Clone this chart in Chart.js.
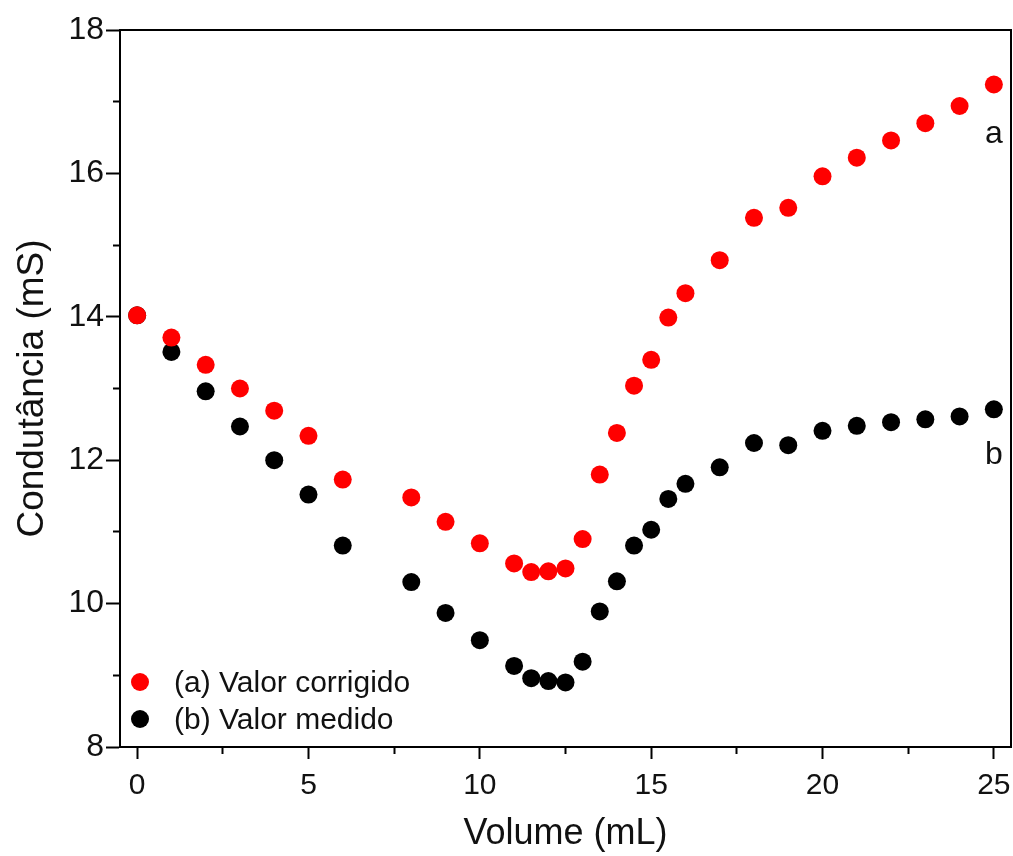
<!DOCTYPE html>
<html>
<head>
<meta charset="utf-8">
<script src="https://cdn.jsdelivr.net/npm/chart.js@4.4.0/dist/chart.umd.min.js"></script>
<style>
  html, body { margin: 0; padding: 0; background: #fff; }
  #wrap { width: 1013px; height: 856px; }
</style>
</head>
<body>
<div id="wrap"><canvas id="chart" width="1013" height="856"></canvas></div>
<script>
// volume added (mL)
const volume = [0, 1, 2, 3, 4, 5, 6, 8, 9, 10, 11, 11.5, 12, 12.5, 13, 13.5, 14, 14.5, 15, 15.5, 16, 17, 18, 19, 20, 21, 22, 23, 24, 25];
// (a) corrected conductance (mS)
const corrigido = [14.02, 13.71, 13.33, 13.0, 12.69, 12.34, 11.73, 11.48, 11.14, 10.84, 10.56, 10.44, 10.45, 10.49, 10.9, 11.8, 12.38, 13.04, 13.4, 13.99, 14.33, 14.79, 15.38, 15.52, 15.96, 16.22, 16.46, 16.7, 16.94, 17.24];
// (b) measured conductance (mS)
const medido = [14.02, 13.51, 12.96, 12.47, 12.0, 11.52, 10.81, 10.3, 9.87, 9.49, 9.13, 8.96, 8.92, 8.9, 9.19, 9.89, 10.31, 10.81, 11.03, 11.46, 11.67, 11.9, 12.24, 12.21, 12.41, 12.48, 12.53, 12.57, 12.61, 12.71];

const seriesLabels = ["(a) Valor corrigido", "(b) Valor medido"];
const seriesTags = ["a", "b"];
const seriesColors = ["#ff0000", "#000000"];
// where the a / b tags sit, in data units
const tagX = [25, 25];
const tagY = [16.55, 12.07];

const xTicks = [0, 2.5, 5, 7.5, 10, 12.5, 15, 17.5, 20, 22.5, 25];
const xLabeled = [0, 5, 10, 15, 20, 25];
const yTicks = [8, 9, 10, 11, 12, 13, 14, 15, 16, 17, 18];
const yLabeled = [8, 10, 12, 14, 16, 18];

const FONT = "'Liberation Sans', Arial, sans-serif";
const INK = "#111";

const toPoints = (ys) => volume.map((v, i) => ({ x: v, y: ys[i] }));

// frame round the plot + legend + a/b tags
const extras = {
  id: "extras",
  afterDraw(chart) {
    const { ctx, chartArea: a, scales } = chart;
    ctx.save();
    ctx.strokeStyle = "#000";
    ctx.lineWidth = 2;
    ctx.beginPath();
    ctx.moveTo(a.left, a.top);
    ctx.lineTo(a.right, a.top);
    ctx.lineTo(a.right, a.bottom);
    ctx.stroke();

    // legend, lower left corner
    ctx.font = "30px " + FONT;
    ctx.textBaseline = "middle";
    ctx.textAlign = "left";
    seriesLabels.forEach((lab, i) => {
      const y = a.bottom - 65 + i * 37;
      ctx.fillStyle = seriesColors[i];
      ctx.beginPath();
      ctx.arc(a.left + 20, y, 9, 0, Math.PI * 2);
      ctx.fill();
      ctx.fillStyle = INK;
      ctx.fillText(lab, a.left + 54, y + 2);
    });

    // series tags
    ctx.font = "32px " + FONT;
    ctx.textAlign = "center";
    seriesTags.forEach((t, i) => {
      ctx.fillStyle = INK;
      ctx.fillText(t, scales.x.getPixelForValue(tagX[i]), scales.y.getPixelForValue(tagY[i]));
    });
    ctx.restore();
  },
};

new Chart(document.getElementById("chart"), {
  type: "scatter",
  data: {
    datasets: [
      {
        label: seriesLabels[0],
        data: toPoints(corrigido),
        backgroundColor: seriesColors[0],
        borderWidth: 0,
        pointRadius: 9,
      },
      {
        label: seriesLabels[1],
        data: toPoints(medido),
        backgroundColor: seriesColors[1],
        borderWidth: 0,
        pointRadius: 9,
      },
    ],
  },
  options: {
    responsive: false,
    animation: false,
    layout: { autoPadding: false, padding: { top: 30, right: 2, left: 0, bottom: 0 } },
    plugins: {
      legend: { display: false },
      tooltip: { enabled: false },
    },
    scales: {
      x: {
        type: "linear",
        min: -0.5,
        max: 25.5,
        afterBuildTicks: (s) => { s.ticks = xTicks.map((v) => ({ value: v })); },
        afterFit: (s) => {
          s.height = 109;
          s.paddingLeft = 0;
          s.paddingRight = 0;
        },
        border: { display: true, color: "#000", width: 2 },
        grid: {
          drawOnChartArea: false,
          drawTicks: true,
          tickLength: 12,
          tickColor: "#000",
          tickWidth: 2,
          tickBorderDash: (c) => (xLabeled.includes(c.tick.value) ? [] : [6, 40]),
        },
        ticks: {
          autoSkip: false,
          maxRotation: 0,
          padding: 9,
          color: INK,
          font: { family: FONT, size: 30 },
          callback: (v) => (xLabeled.includes(v) ? String(v) : ""),
        },
        title: {
          display: true,
          text: "Volume (mL)",
          color: INK,
          font: { family: FONT, size: 36 },
          padding: { top: 0, bottom: 0 },
        },
      },
      y: {
        min: 8,
        max: 18,
        afterBuildTicks: (s) => { s.ticks = yTicks.map((v) => ({ value: v })); },
        afterFit: (s) => {
          s.width = 120;
          s.paddingTop = 0;
          s.paddingBottom = 0;
        },
        border: { display: true, color: "#000", width: 2 },
        grid: {
          drawOnChartArea: false,
          drawTicks: true,
          tickLength: 14,
          tickColor: "#000",
          tickWidth: 2,
          tickBorderDash: (c) => (yLabeled.includes(c.tick.value) ? [] : [7, 7]),
          tickBorderDashOffset: (c) => (yLabeled.includes(c.tick.value) ? 0 : 7),
        },
        ticks: {
          autoSkip: false,
          padding: 2,
          color: INK,
          font: { family: FONT, size: 32 },
          callback: (v) => (yLabeled.includes(v) ? String(v) : ""),
        },
        title: {
          display: true,
          text: "Condutância (mS)",
          color: INK,
          font: { family: FONT, size: 37 },
          padding: { top: 11, bottom: 0 },
        },
      },
    },
  },
  plugins: [extras],
});
</script>
</body>
</html>
